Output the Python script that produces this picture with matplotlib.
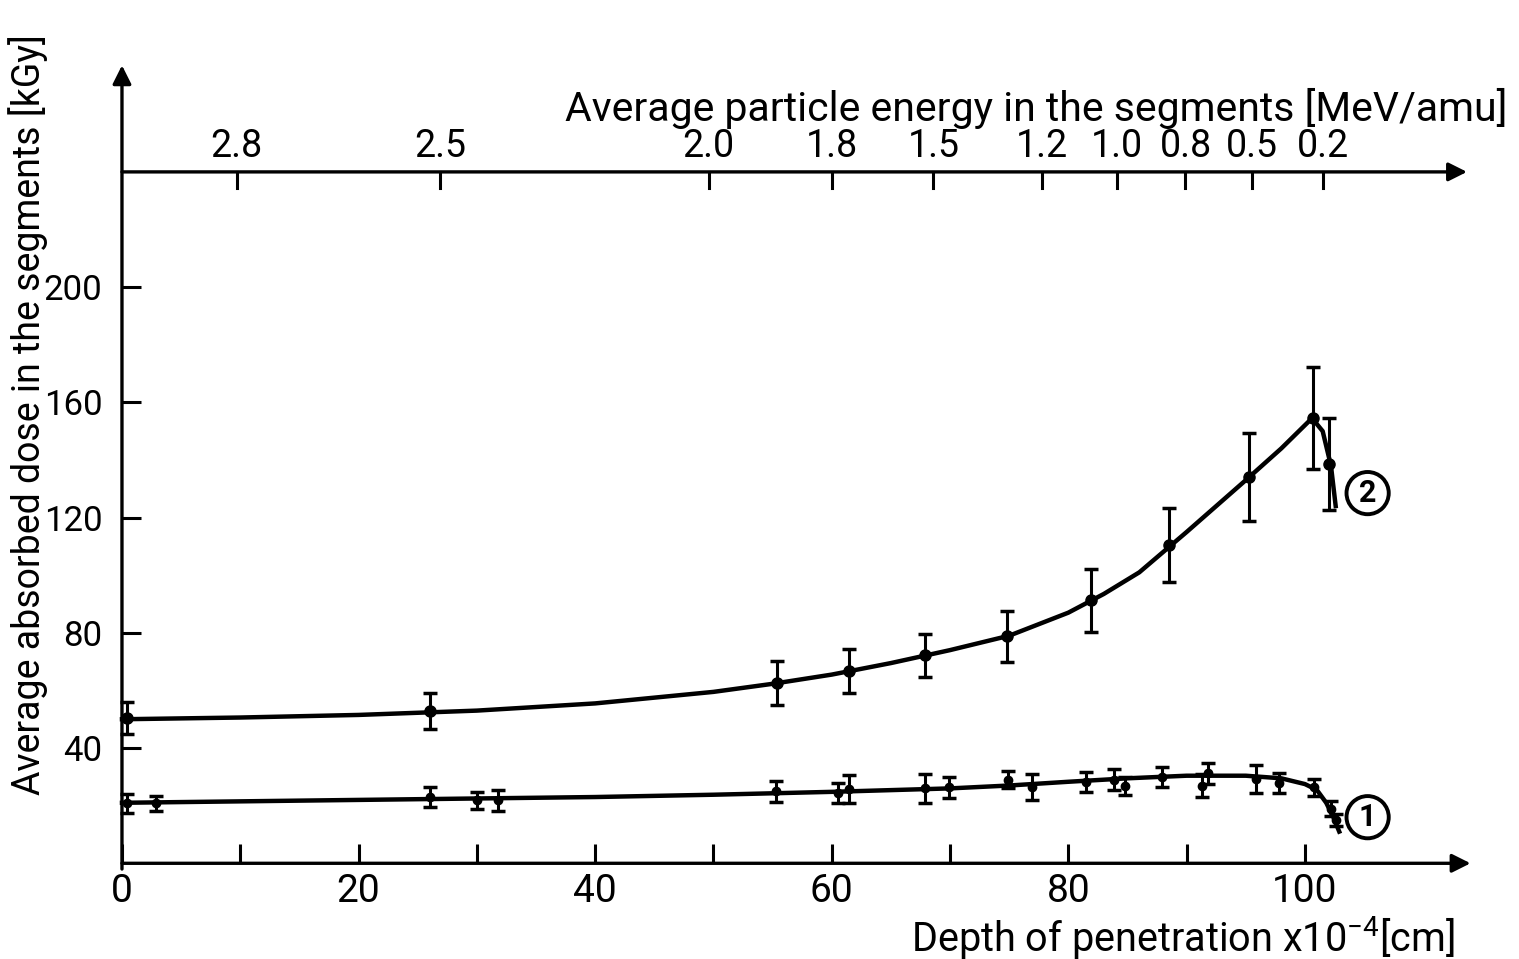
import numpy as np
import matplotlib.pyplot as plt

plt.rcParams['font.family'] = ['Roboto', 'DejaVu Sans']
plt.rcParams['mathtext.fontset'] = 'custom'
plt.rcParams['mathtext.rm'] = 'Roboto'

# curve 2 : measured points with error bars
depth2 = [0.4, 26.0, 55.4, 61.5, 67.9, 74.8, 81.9, 88.5, 95.3, 100.7, 102.0]
dose2 = [50.5, 52.8, 62.7, 66.8, 72.2, 78.8, 91.3, 110.4, 134.0, 154.5, 138.5]
err2 = [5.5, 6.2, 7.6, 7.6, 7.4, 8.8, 11.0, 12.8, 15.3, 17.7, 16.0]

# curve 2 : hand drawn fit
fit2_x = [0, 10, 20, 30, 40, 50, 55, 60, 65, 70, 75, 80, 83, 86, 90, 95, 98, 100.6, 101.5, 102.2, 102.6]
fit2_y = [50, 50.6, 51.5, 53, 55.5, 59.5, 62.3, 65.5, 69.5, 74, 79, 87, 93.5, 101, 115, 133, 144, 154.5, 150, 138, 124]

# curve 1 : measured points with error bars
depth1 = [0.4, 2.9, 26.0, 30.0, 31.8, 55.3, 60.5, 61.5, 67.9, 69.9, 74.9, 76.9,
          81.5, 83.9, 84.8, 87.9, 91.3, 91.8, 95.9, 97.8, 100.8, 102.2, 102.6]
dose1 = [20.8, 20.8, 23.0, 21.8, 21.8, 25.0, 24.3, 25.7, 26.0, 26.4, 29.0, 26.4,
         28.1, 29.0, 26.7, 29.9, 27.0, 31.2, 29.2, 27.8, 26.4, 19.0, 15.0]
err1 = [3.3, 2.6, 3.6, 3.0, 3.6, 3.6, 3.5, 4.9, 4.9, 3.6, 3.0, 4.5,
        3.5, 3.6, 3.1, 3.5, 4.0, 3.6, 4.9, 3.5, 3.0, 2.5, 2.0]

# curve 1 : hand drawn fit
fit1_x = [0, 10, 20, 30, 40, 50, 60, 70, 75, 80, 85, 90, 95, 98, 100, 101, 101.8, 102.4, 102.9]
fit1_y = [21, 21.5, 22, 22.5, 23, 23.8, 24.8, 26, 27, 28.3, 29.5, 30.4, 30.4, 29.5, 27.5, 25.5, 21, 16, 11]

# energy scale on the upper axis (MeV/amu) and where it sits in depth
energy_labels = ['2.8', '2.5', '2.0', '1.8', '1.5', '1.2', '1.0', '0.8', '0.5', '0.2']
energy_depth = [9.7, 26.9, 49.6, 60.0, 68.6, 77.8, 84.1, 89.9, 95.5, 101.5]
energy_axis_y = 240

fig = plt.figure(figsize=(15.19, 9.59), dpi=100)
ax = fig.add_axes([0.0803, 0.0998, 0.8878, 0.8321])
ax.set_xlim(0, 114)
ax.set_ylim(0, 277)
for s in ax.spines.values():
    s.set_visible(False)

# axis lines with arrow heads
arrow = dict(arrowstyle='-|>', lw=2.4, color='k', mutation_scale=28, shrinkA=0, shrinkB=0)
ax.annotate('', xy=(0, 277), xytext=(0, -2), arrowprops=arrow, annotation_clip=False)
ax.annotate('', xy=(114, 0), xytext=(0, 0), arrowprops=arrow, annotation_clip=False)
ax.annotate('', xy=(113.7, energy_axis_y), xytext=(0, energy_axis_y), arrowprops=arrow,
            annotation_clip=False)

ax.set_xticks(range(0, 101, 20))
ax.set_xticks(range(10, 100, 20), minor=True)
ax.set_yticks(range(40, 201, 40))
ax.tick_params(which='both', direction='in', length=14, width=2.2, labelsize=28, pad=7)
ax.tick_params(axis='y', labelsize=25, pad=14)

# upper energy axis
for e, d in zip(energy_labels, energy_depth):
    ax.plot([d, d], [energy_axis_y, energy_axis_y - 5.5], color='k', lw=2.2)
    ax.text(d, energy_axis_y + 2.5, e, ha='center', va='bottom', fontsize=27)
ax.text(77.3, 262, 'Average particle energy in the segments [MeV/amu]',
        ha='center', va='center', fontsize=29.5)

# fits
ax.plot(fit2_x, fit2_y, color='k', lw=3.2, clip_on=False)
ax.plot(fit1_x, fit1_y, color='k', lw=3.2, clip_on=False)

# data with error bars
ax.errorbar(depth2, dose2, yerr=err2, fmt='o', color='k', ms=8, elinewidth=2.2,
            capsize=5, capthick=2.5, clip_on=False)
ax.errorbar(depth1, dose1, yerr=err1, fmt='o', color='k', ms=6, elinewidth=2.2,
            capsize=5, capthick=2.5, clip_on=False)

circ = dict(boxstyle='circle,pad=0.2', fc='white', ec='k', lw=2.8)
ax.text(105.3, 128.5, '2', ha='center', va='center', fontsize=22, fontweight='bold', bbox=circ)
ax.text(105.3, 16, '1', ha='center', va='center', fontsize=22, fontweight='bold', bbox=circ)

fig.text(1455 / 1519, 1 - 952 / 959, r'Depth of penetration x10$^{\mathrm{-4}}$[cm]',
         ha='right', va='baseline', fontsize=28.5)
fig.text(28 / 1519, 1 - 795 / 959, 'Average absorbed dose in the segments [kGy]',
         rotation=90, ha='center', va='bottom', fontsize=27)

fig.savefig('out.png', dpi=100)
